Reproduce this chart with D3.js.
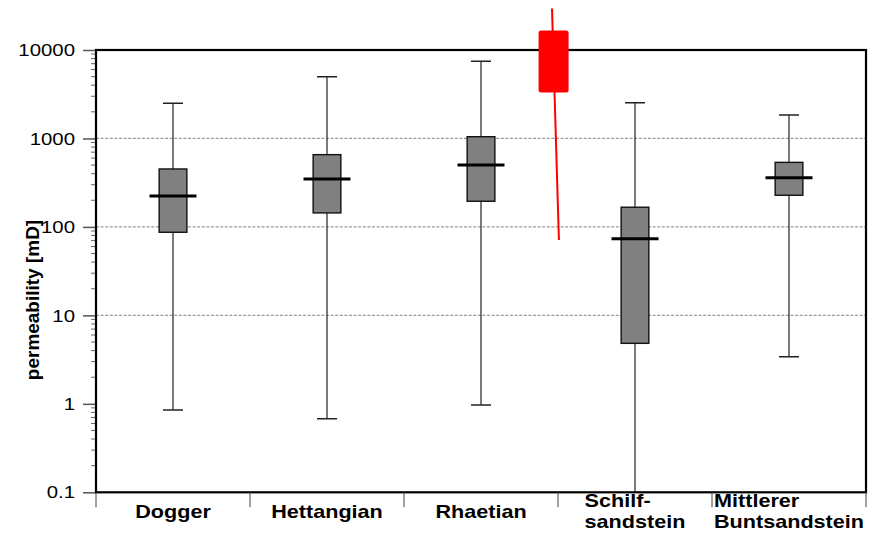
<!DOCTYPE html>
<html>
<head>
<meta charset="utf-8">
<script src="https://cdn.jsdelivr.net/npm/d3@7/dist/d3.min.js"></script>
<style>
  html, body { margin: 0; padding: 0; background: #fff; }
  svg { display: block; }
  text { font-family: "Liberation Sans", Arial, Helvetica, sans-serif; fill: #000; }
</style>
</head>
<body>
<svg id="chart" width="878" height="534"></svg>
<script>
// Permeability statistics per stratigraphic unit (mD)
const categories = [["Dogger"], ["Hettangian"], ["Rhaetian"], ["Schilf-", "sandstein"], ["Mittlerer", "Buntsandstein"]];
const whiskerMax = [2500, 5000, 7450, 2530, 1840];
const upperQuartile = [452, 656, 1047, 167, 537];
const medianValue = [224, 348, 501, 73.6, 360];
const lowerQuartile = [87, 144, 195, 4.83, 228];
const whiskerMin = [0.85, 0.68, 0.97, 0.05, 3.4];

// y-axis ticks and dashed reference lines
const yTickValues = [0.1, 1, 10, 100, 1000, 10000];
const yTickLabels = ["0.1", "1", "10", "100", "1000", "10000"];
const gridValues = [10, 100, 1000];

// Red highlight marker (values in mD, position in category units)
const markerPosition = [2.961, 3.006];          // top end, bottom end
const markerRange = [29400, 71];                // line: high, low
const markerBox = [16600, 3300];                // box: top, bottom

const svg = d3.select("#chart");
const plot = { left: 96, right: 866, top: 50, bottom: 492.3 };

const x = d3.scaleLinear().domain([0, categories.length]).range([plot.left, plot.right]);
const y = d3.scaleLog().domain([0.1, 10000]).range([plot.bottom, plot.top]);
const bandW = x(1) - x(0);

svg.append("defs").append("clipPath").attr("id", "plotClip")
  .append("rect")
  .attr("x", plot.left).attr("y", plot.top)
  .attr("width", plot.right - plot.left).attr("height", plot.bottom - plot.top);

// dashed grid lines
svg.append("g").selectAll("line").data(gridValues).join("line")
  .attr("x1", plot.left).attr("x2", plot.right)
  .attr("y1", d => y(d)).attr("y2", d => y(d))
  .attr("stroke", "#9a9a9a").attr("stroke-width", 1.2)
  .attr("stroke-dasharray", "3,1.6");

// left log axis: minor and major ticks
const minorTicks = [];
for (let e = -1; e < 4; e++) for (let m = 2; m <= 9; m++) minorTicks.push(m * Math.pow(10, e));
svg.append("g").selectAll("line").data(minorTicks).join("line")
  .attr("x1", plot.left - 5).attr("x2", plot.left)
  .attr("y1", d => y(d)).attr("y2", d => y(d))
  .attr("stroke", "#666").attr("stroke-width", 1);

const yAxis = svg.append("g").attr("transform", `translate(${plot.left},0)`)
  .call(d3.axisLeft(y).tickValues(yTickValues).tickSize(13).tickFormat(""));
yAxis.select(".domain").remove();
yAxis.selectAll(".tick line").attr("stroke", "#555").attr("stroke-width", 1.5);

svg.append("g").selectAll("g").data(yTickValues).join("g")
  .attr("transform", d => `translate(75,${y(d)}) scale(1.2,1)`)
  .append("text")
  .attr("text-anchor", "end").attr("dy", "0.36em")
  .style("font-size", "17px")
  .text((d, i) => yTickLabels[i]);

// y-axis title
svg.append("text")
  .attr("transform", "translate(39,300) rotate(-90) scale(1,0.93)")
  .attr("text-anchor", "middle")
  .style("font-size", "19px").style("font-weight", "bold")
  .text("permeability [mD]");

// box plots
const boxes = svg.append("g").attr("clip-path", "url(#plotClip)");
const idx = d3.range(categories.length);
const cx = i => x(i + 0.5);
const boxW = bandW * 0.18, medW = bandW * 0.305, capW = bandW * 0.13;

boxes.selectAll("line.whisker").data(idx).join("line").attr("class", "whisker")
  .attr("x1", cx).attr("x2", cx)
  .attr("y1", i => y(whiskerMax[i])).attr("y2", i => y(Math.max(whiskerMin[i], 0.01)))
  .attr("stroke", "#333").attr("stroke-width", 1.3);

boxes.selectAll("line.capHi").data(idx).join("line").attr("class", "capHi")
  .attr("x1", i => cx(i) - capW / 2).attr("x2", i => cx(i) + capW / 2)
  .attr("y1", i => y(whiskerMax[i])).attr("y2", i => y(whiskerMax[i]))
  .attr("stroke", "#222").attr("stroke-width", 1.5);

boxes.selectAll("line.capLo").data(idx.filter(i => whiskerMin[i] >= 0.1)).join("line").attr("class", "capLo")
  .attr("x1", i => cx(i) - capW / 2).attr("x2", i => cx(i) + capW / 2)
  .attr("y1", i => y(whiskerMin[i])).attr("y2", i => y(whiskerMin[i]))
  .attr("stroke", "#222").attr("stroke-width", 1.5);

boxes.selectAll("rect.box").data(idx).join("rect").attr("class", "box")
  .attr("x", i => cx(i) - boxW / 2).attr("width", boxW)
  .attr("y", i => y(upperQuartile[i]))
  .attr("height", i => y(lowerQuartile[i]) - y(upperQuartile[i]))
  .attr("fill", "#808080").attr("stroke", "#111").attr("stroke-width", 1.4);

boxes.selectAll("line.median").data(idx).join("line").attr("class", "median")
  .attr("x1", i => cx(i) - medW / 2).attr("x2", i => cx(i) + medW / 2)
  .attr("y1", i => y(medianValue[i])).attr("y2", i => y(medianValue[i]))
  .attr("stroke", "#000").attr("stroke-width", 3);

// frame
svg.append("rect")
  .attr("x", plot.left).attr("y", plot.top)
  .attr("width", plot.right - plot.left).attr("height", plot.bottom - plot.top)
  .attr("fill", "none").attr("stroke", "#000").attr("stroke-width", 2.2);

// category axis: boundary ticks below the frame
svg.append("g").selectAll("line").data(d3.range(categories.length + 1)).join("line")
  .attr("x1", d => x(d)).attr("x2", d => x(d))
  .attr("y1", plot.bottom).attr("y2", plot.bottom + 15)
  .attr("stroke", "#444").attr("stroke-width", 1);

// category labels (multi-line labels left-aligned as a centred block)
const labelG = svg.append("g").selectAll("g").data(categories).join("g")
  .attr("transform", (d, i) => `translate(${cx(i)},0) scale(1.2,1)`);
labelG.each(function (lines) {
  const g = d3.select(this);
  const baseY = lines.length === 1 ? [518.5] : [507.5, 528.5];
  const texts = lines.map((t, k) => g.append("text")
    .attr("y", baseY[k])
    .style("font-size", "18px").style("font-weight", "bold")
    .text(t));
  if (lines.length === 1) {
    texts[0].attr("text-anchor", "middle");
  } else {
    const maxW = d3.max(texts, t => t.node().getComputedTextLength());
    texts.forEach(t => t.attr("text-anchor", "start").attr("x", -maxW / 2));
  }
});

// red highlight marker
const mx = v => x(markerPosition[0]) + (x(markerPosition[1]) - x(markerPosition[0])) *
  (y(v) - y(markerRange[0])) / (y(markerRange[1]) - y(markerRange[0]));
svg.append("line")
  .attr("x1", mx(markerRange[0])).attr("y1", y(markerRange[0]))
  .attr("x2", mx(markerRange[1])).attr("y2", y(markerRange[1]))
  .attr("stroke", "#ff0000").attr("stroke-width", 2);
const markerCx = mx(Math.sqrt(markerBox[0] * markerBox[1]));
svg.append("rect")
  .attr("x", markerCx - bandW * 0.0975).attr("width", bandW * 0.195)
  .attr("y", y(markerBox[0])).attr("height", y(markerBox[1]) - y(markerBox[0]))
  .attr("rx", 2.5).attr("ry", 2.5)
  .attr("fill", "#ff0000");
</script>
</body>
</html>
